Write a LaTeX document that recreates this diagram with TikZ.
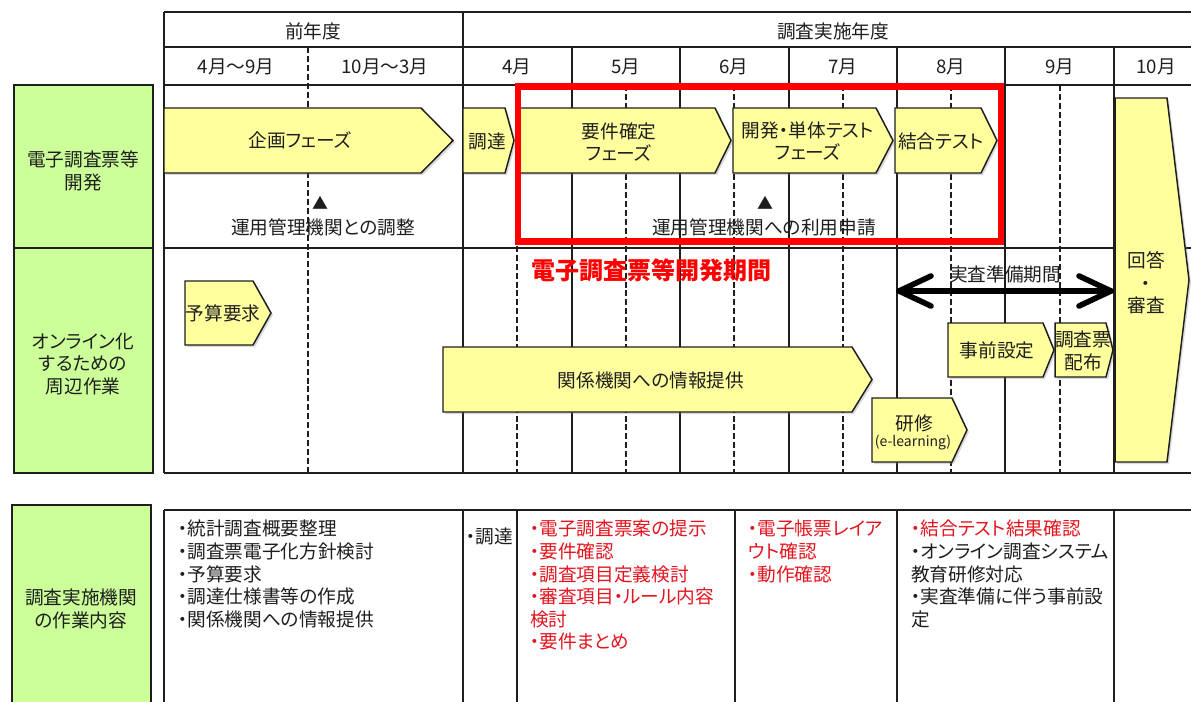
\documentclass[tikz,border=0pt]{standalone}
\usepackage{fontspec}
\setmainfont{Noto Sans CJK JP}[RawFeature=+palt]
\usetikzlibrary{shadows}
\definecolor{gfill}{RGB}{204,255,153}
\definecolor{yfill}{RGB}{255,255,158}
\definecolor{lnc}{RGB}{30,30,30}
\definecolor{tred}{RGB}{228,20,30}
\definecolor{bred}{RGB}{255,0,0}
\newcommand\phasebox[5]{\draw[phase] (#1,#2) -- (#3,#2) -- (#4,{(#2+#5)/2}) -- (#3,#5) -- (#1,#5) -- cycle;}
\begin{document}
\begin{tikzpicture}[x=0.75pt,y=-0.75pt,
  every node/.style={inner sep=0pt, font=\fontsize{14}{16.9}\selectfont, text=lnc},
  gridline/.style={draw=lnc, line width=1.1pt},
  dashline/.style={gridline, dash pattern=on 4.5pt off 2.2pt},
  phase/.style={fill=yfill, draw=lnc, line width=1.1pt, line join=miter,
    drop shadow={shadow xshift=1.5pt, shadow yshift=-1.5pt, opacity=0.3}},
  greenbox/.style={fill=gfill, draw=lnc, line width=1.1pt},
  listtext/.style={anchor=north west, align=left},
  redtext/.style={text=tred},
  marker/.style={font=\fontsize{12}{14}\selectfont},
  dblarrow/.style={draw=black, line width=4.2pt, line cap=round, line join=round}]
\useasboundingbox (0,0) rectangle (1191,702);
\clip (0,0) rectangle (1191,702);
% ---------- upper grid ----------
\foreach \y in {12,47,85,248,473} \draw[gridline] (164,\y) -- (1200,\y);
\draw[gridline] (164,12) -- (164,473);
\draw[gridline] (463,12) -- (463,473);
\foreach \x in {572,680,789,897,1005,1114} \draw[gridline] (\x,47) -- (\x,473);
\draw[dashline] (308,47) -- (308,473);
\foreach \x in {517,626,734,843,951,1060} \draw[dashline] (\x,85) -- (\x,473);
% ---------- green boxes ----------
\draw[greenbox] (14,85) rectangle (153,248);
\draw[greenbox] (14,248) rectangle (153,473);
\draw[greenbox] (12,505) rectangle (151,712);
% ---------- lower grid ----------
\draw[gridline] (164,510) -- (1200,510);
\foreach \x in {164,463,517,735,897,1114} \draw[gridline] (\x,510) -- (\x,712);
% ---------- phase arrows ----------
\phasebox{164}{108}{421}{453}{173}
\phasebox{463}{108}{505}{514}{173}
\phasebox{519}{108}{715}{731}{173}
\phasebox{733}{108}{876}{893}{173}
\phasebox{895}{108}{981}{997}{173}
\phasebox{185}{281}{253}{271}{345}
\phasebox{443}{347}{852}{872}{412}
\phasebox{872}{398}{952}{967}{462}
\phasebox{948}{323}{1043}{1054}{377}
\phasebox{1055}{323}{1106}{1113}{377}
\draw[phase] (1115,98) -- (1167,98) -- (1189,280) -- (1167,462) -- (1115,462) -- cycle;
% ---------- red frame ----------
\draw[bred, line width=5.2pt] (518,86.5) rectangle (1001,241.5);
% ---------- header texts ----------
\node (h1) at (313,31) {前年度};
\node (h2) at (833,31) {調査実施年度};
\node (m1) at (236,67) {4月～9月};
\node (m2) at (385,67) {10月～3月};
\node (m3) at (517,67) {4月};
\node (m4) at (626,67) {5月};
\node (m5) at (734,67) {6月};
\node (m6) at (843,67) {7月};
\node (m7) at (951,67) {8月};
\node (m8) at (1060,67) {9月};
\node (m9) at (1156,67) {10月};
% ---------- row labels ----------
\node[align=center] (r1) at (83,171) {電子調査票等\\開発};
\node[align=center] (r2) at (83,364) {オンライン化\\するための\\周辺作業};
\node[align=center] (r3) at (81,609) {調査実施機関\\の作業内容};
% ---------- arrow texts ----------
\node (a1) at (300,140) {企画フェーズ};
\node (a2) at (487,141) {調達};
\node[align=center] (a3) at (619,142) {要件確定\\フェーズ};
\node[align=center] (a4) at (808,141) {開発・単体テスト\\フェーズ};
\node (a5) at (941,141) {結合テスト};
\node[marker] (tri1) at (320,203) {▲};
\node (n1) at (323,227) {運用管理機関との調整};
\node[marker] (tri2) at (765,203) {▲};
\node (n2) at (764,227) {運用管理機関への利用申請};
\node[font=\bfseries\fontsize{18}{20}\selectfont, text=bred] (title) at (651,270) {電子調査票等開発期間};
\node (a6) at (223,313) {予算要求};
\node (a7) at (651,380) {関係機関への情報提供};
\node (a8) at (914,423) {研修};
\node[font=\fontsize{10.5}{12}\selectfont] (a8b) at (913,443) {(e-learning)};
\node (a9) at (997,350) {事前設定};
\node[align=center] (a10) at (1083,351) {調査票\\配布};
\node[align=center] (a11) at (1146,283) {回答\\・\\審査};
% ---------- double arrow ----------
\coordinate (pa) at (899,291);
\coordinate (pb) at (1111,291);
\draw[dblarrow] (pa) -- (pb);
\draw[dblarrow] ([shift={(32,-15)}]pa) -- (pa) -- ([shift={(32,15)}]pa);
\draw[dblarrow] ([shift={(-32,-15)}]pb) -- (pb) -- ([shift={(-32,15)}]pb);
\node (prep) at (1005,274) {実査準備期間};
% ---------- lower texts ----------
\node[listtext] (c1) at (178,520) {・統計調査概要整理\\・調査票電子化方針検討\\・予算要求\\・調達仕様書等の作成\\・関係機関への情報提供};
\node[listtext] (c2) at (466,528) {・調達};
\node[listtext, redtext] (c3) at (530,520) {・電子調査票案の提示\\・要件確認\\・調査項目定義検討\\・審査項目・ルール内容\\検討\\・要件まとめ};
\node[listtext, redtext] (c4) at (748,520) {・電子帳票レイア\\ウト確認\\・動作確認};
\node[listtext] (c5) at (911,520) {\textcolor{tred}{・結合テスト結果確認}\\・オンライン調査システム\\教育研修対応\\・実査準備に伴う事前設\\定};
\end{tikzpicture}
\end{document}
